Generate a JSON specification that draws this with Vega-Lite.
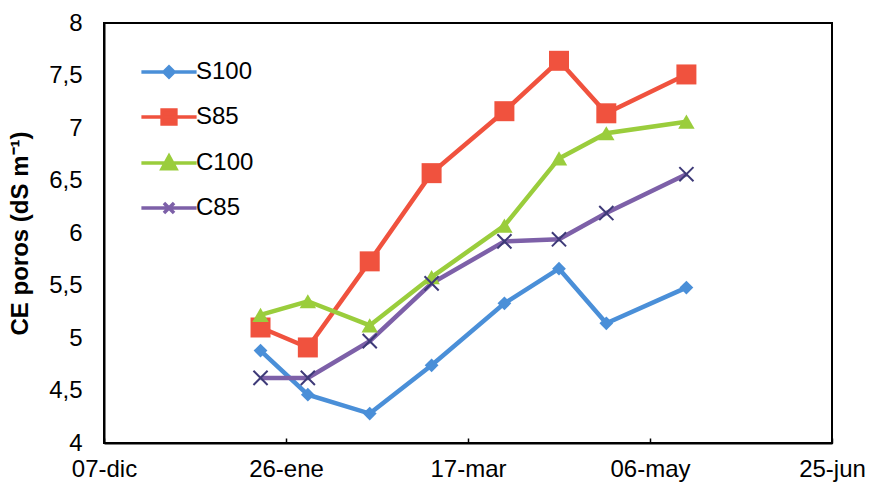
{
  "$schema": "https://vega.github.io/schema/vega-lite/v6.json",
  "width": 728,
  "height": 420,
  "autosize": {"type": "none"},
  "padding": {"left": 104, "top": 23, "right": 41, "bottom": 47},
  "background": "white",
  "config": {
    "font": "Liberation Sans",
    "view": {"stroke": "black", "strokeWidth": 2},
    "axis": {"domainColor": "black", "domainWidth": 2, "grid": false, "labelColor": "black", "labelFont": "Liberation Sans"}
  },
  "data": {
    "values": [
      {"fecha": "2010-01-19", "serie": "S100", "ce": 4.88},
      {"fecha": "2010-02-01", "serie": "S100", "ce": 4.46},
      {"fecha": "2010-02-18", "serie": "S100", "ce": 4.28},
      {"fecha": "2010-03-07", "serie": "S100", "ce": 4.74},
      {"fecha": "2010-03-27", "serie": "S100", "ce": 5.33},
      {"fecha": "2010-04-11", "serie": "S100", "ce": 5.66},
      {"fecha": "2010-04-24", "serie": "S100", "ce": 5.14},
      {"fecha": "2010-05-16", "serie": "S100", "ce": 5.48},
      {"fecha": "2010-01-19", "serie": "S85", "ce": 5.10},
      {"fecha": "2010-02-01", "serie": "S85", "ce": 4.91},
      {"fecha": "2010-02-18", "serie": "S85", "ce": 5.73},
      {"fecha": "2010-03-07", "serie": "S85", "ce": 6.57},
      {"fecha": "2010-03-27", "serie": "S85", "ce": 7.16},
      {"fecha": "2010-04-11", "serie": "S85", "ce": 7.64},
      {"fecha": "2010-04-24", "serie": "S85", "ce": 7.14},
      {"fecha": "2010-05-16", "serie": "S85", "ce": 7.51},
      {"fecha": "2010-01-19", "serie": "C100", "ce": 5.22},
      {"fecha": "2010-02-01", "serie": "C100", "ce": 5.35},
      {"fecha": "2010-02-18", "serie": "C100", "ce": 5.12},
      {"fecha": "2010-03-07", "serie": "C100", "ce": 5.58},
      {"fecha": "2010-03-27", "serie": "C100", "ce": 6.07},
      {"fecha": "2010-04-11", "serie": "C100", "ce": 6.71},
      {"fecha": "2010-04-24", "serie": "C100", "ce": 6.95},
      {"fecha": "2010-05-16", "serie": "C100", "ce": 7.06},
      {"fecha": "2010-01-19", "serie": "C85", "ce": 4.62},
      {"fecha": "2010-02-01", "serie": "C85", "ce": 4.62},
      {"fecha": "2010-02-18", "serie": "C85", "ce": 4.97},
      {"fecha": "2010-03-07", "serie": "C85", "ce": 5.52},
      {"fecha": "2010-03-27", "serie": "C85", "ce": 5.92},
      {"fecha": "2010-04-11", "serie": "C85", "ce": 5.94},
      {"fecha": "2010-04-24", "serie": "C85", "ce": 6.19},
      {"fecha": "2010-05-16", "serie": "C85", "ce": 6.56}
    ]
  },
  "encoding": {
    "x": {
      "field": "fecha", "type": "temporal",
      "scale": {"type": "utc", "domain": [{"year": 2009, "month": 12, "date": 7, "utc": true}, {"year": 2010, "month": 6, "date": 25, "utc": true}]},
      "axis": {
        "title": null,
        "values": [
          {"year": 2009, "month": 12, "date": 7, "utc": true},
          {"year": 2010, "month": 1, "date": 26, "utc": true},
          {"year": 2010, "month": 3, "date": 17, "utc": true},
          {"year": 2010, "month": 5, "date": 6, "utc": true},
          {"year": 2010, "month": 6, "date": 25, "utc": true}
        ],
        "labelExpr": "utcFormat(datum.value, '%d') + '-' + ['ene','feb','mar','abr','may','jun','jul','ago','sep','oct','nov','dic'][utcmonth(datum.value)]",
        "labelFontSize": 24,
        "labelPadding": 19,
        "tickSize": -5,
        "tickColor": "black",
        "tickWidth": 1.5,
        "labelFlush": false,
        "labelOverlap": false
      }
    },
    "y": {
      "field": "ce", "type": "quantitative",
      "scale": {"domain": [4, 8], "nice": false, "zero": false},
      "axis": {
        "title": "CE poros (dS m⁻¹)",
        "titleFontSize": 24,
        "titleFontWeight": "bold",
        "titleColor": "black",
        "titlePadding": 16,
        "values": [4, 4.5, 5, 5.5, 6, 6.5, 7, 7.5, 8],
        "format": ".1~f",
        "labelExpr": "replace(datum.label, '.', ',')",
        "labelFontSize": 24,
        "ticks": false,
        "labelPadding": 22,
        "labelFlush": false,
        "labelOverlap": false
      }
    },
    "color": {
      "field": "serie", "type": "nominal",
      "scale": {"domain": ["S100", "S85", "C100", "C85"], "range": ["#4A8FD8", "#F0523E", "#9ACD3C", "#7D60A8"]}
    }
  },
  "layer": [
    {
      "mark": {"type": "line", "strokeWidth": 4.5},
      "encoding": {
        "color": {
          "field": "serie", "type": "nominal",
          "legend": {
            "orient": "none",
            "legendX": 40,
            "legendY": 24,
            "title": null,
            "labelFontSize": 24,
            "labelColor": "black",
            "labelOffset": 2,
            "symbolSize": 2116,
            "symbolStrokeWidth": 3.5,
            "rowPadding": 7,
            "padding": 0,
            "symbolType": "M-1.2,0H1.2",
            "encode": {
              "symbols": {
                "update": {
                  "shape": {"signal": "datum.value == 'S100' ? 'M-1.2,0H1.2M0,-0.22L0.22,0L0,0.22L-0.22,0Z' : datum.value == 'S85' ? 'M-1.2,0H1.2M-0.3,-0.3H0.3V0.3H-0.3Z' : datum.value == 'C100' ? 'M-1.2,0H1.2M0,-0.3L0.3,0.25H-0.3Z' : 'M-1.2,0H1.2M-0.22,-0.22L0.22,0.22M-0.22,0.22L0.22,-0.22'"},
                  "fill": {"signal": "scale('color', datum.value)"},
                  "fillOpacity": {"value": 1}
                }
              }
            }
          }
        }
      }
    },
    {
      "mark": {"type": "point", "filled": true, "opacity": 1, "size": 190},
      "transform": [{"filter": "datum.serie == 'S100'"}],
      "encoding": {"shape": {"value": "diamond"}}
    },
    {
      "mark": {"type": "point", "filled": true, "opacity": 1, "size": 400},
      "transform": [{"filter": "datum.serie == 'S85'"}],
      "encoding": {"shape": {"value": "square"}}
    },
    {
      "mark": {"type": "point", "filled": true, "opacity": 1, "size": 270},
      "transform": [{"filter": "datum.serie == 'C100'"}],
      "encoding": {"shape": {"value": "triangle-up"}}
    },
    {
      "mark": {"type": "point", "filled": false, "opacity": 1, "size": 200, "strokeWidth": 2, "shape": "M-1,-1L1,1M-1,1L1,-1"},
      "transform": [{"filter": "datum.serie == 'C85'"}],
      "encoding": {"color": {"value": "#3E3A78"}}
    }
  ]
}
